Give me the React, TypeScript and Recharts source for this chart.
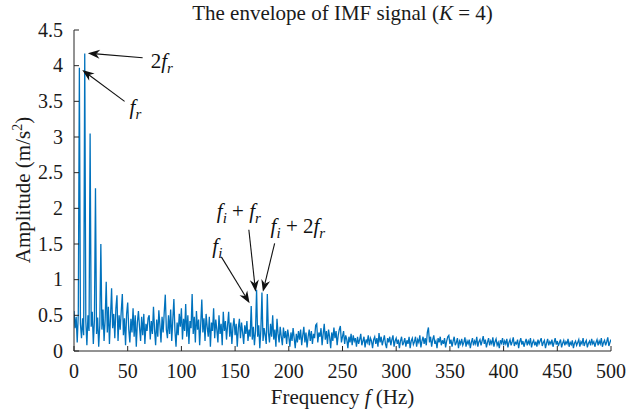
import { LineChart, Line, XAxis, YAxis, ReferenceLine } from 'recharts';

// envelope spectrum, 1 Hz bins
const FREQ_STEP_HZ = 1;

const amp000 = [
  0.56, 0.32, 0.48, 0.12, 0.52, 3.97, 0.38, 0.18, 0.46, 0.22,
  4.17, 0.42, 0.08, 0.5, 0.28, 3.05, 0.34, 0.55, 0.1, 0.43,
  2.28, 0.24, 0.47, 0.06, 0.36, 1.5, 0.3, 0.58, 0.14, 0.44,
  0.97, 0.26, 0.62, 0.1, 0.48, 0.88, 0.32, 0.52, 0.18, 0.6,
  0.78, 0.14, 0.5, 0.3, 0.56, 0.8, 0.22, 0.46, 0.08, 0.52,
];
const amp050 = [
  0.68, 0.3, 0.12, 0.45, 0.26, 0.6, 0.2, 0.5, 0.06, 0.4,
  0.56, 0.34, 0.14, 0.48, 0.22, 0.52, 0.1, 0.38, 0.28, 0.46,
  0.5, 0.16, 0.42, 0.24, 0.62, 0.3, 0.08, 0.44, 0.2, 0.57,
  0.36, 0.12, 0.48, 0.26, 0.54, 0.79, 0.3, 0.18, 0.5, 0.24,
  0.58, 0.14, 0.44, 0.73, 0.28, 0.06, 0.4, 0.22, 0.52, 0.34,
];
const amp100 = [
  0.6, 0.16, 0.45, 0.28, 0.66, 0.2, 0.5, 0.1, 0.42, 0.32,
  0.8, 0.24, 0.48, 0.12, 0.56, 0.3, 0.44, 0.08, 0.38, 0.72,
  0.26, 0.46, 0.14, 0.52, 0.34, 0.2, 0.48, 0.06, 0.4, 0.28,
  0.6, 0.18, 0.44, 0.3, 0.12, 0.5, 0.24, 0.38, 0.08, 0.55,
  0.28, 0.42, 0.16, 0.36, 0.55, 0.2, 0.4, 0.1, 0.34, 0.46,
];
const amp150 = [
  0.22, 0.38, 0.06, 0.32, 0.45, 0.18, 0.4, 0.26, 0.1, 0.36,
  0.24, 0.42, 0.14, 0.3, 0.2, 0.63, 0.16, 0.34, 0.08, 0.28,
  0.86, 0.2, 0.36, 0.04, 0.3, 0.82, 0.14, 0.32, 0.22, 0.1,
  0.8, 0.26, 0.12, 0.38, 0.2, 0.5, 0.16, 0.3, 0.06, 0.45,
  0.24, 0.12, 0.34, 0.2, 0.08, 0.33, 0.18, 0.28, 0.1, 0.3,
];
const amp200 = [
  0.2, 0.06, 0.26, 0.14, 0.32, 0.18, 0.04, 0.24, 0.12, 0.28,
  0.16, 0.3, 0.08, 0.22, 0.34, 0.12, 0.26, 0.05, 0.2, 0.3,
  0.14, 0.28, 0.1, 0.24, 0.18, 0.36, 0.38, 0.12, 0.26, 0.2,
  0.32, 0.08, 0.24, 0.38, 0.16, 0.28, 0.1, 0.3, 0.2, 0.04,
  0.26, 0.14, 0.33, 0.18, 0.28, 0.08, 0.22, 0.3, 0.35, 0.12,
];
const amp250 = [
  0.2, 0.28, 0.1, 0.22, 0.16, 0.04, 0.2, 0.12, 0.24, 0.08,
  0.22, 0.14, 0.18, 0.06, 0.2, 0.1, 0.16, 0.24, 0.08, 0.14,
  0.2, 0.05, 0.16, 0.12, 0.22, 0.08, 0.18, 0.14, 0.04, 0.16,
  0.2, 0.1, 0.18, 0.06, 0.25, 0.12, 0.2, 0.08, 0.15, 0.22,
  0.1, 0.04, 0.18, 0.12, 0.2, 0.08, 0.16, 0.22, 0.06, 0.14,
];
const amp300 = [
  0.18, 0.1, 0.16, 0.04, 0.14, 0.2, 0.08, 0.12, 0.18, 0.06,
  0.15, 0.1, 0.2, 0.04, 0.14, 0.18, 0.09, 0.13, 0.2, 0.06,
  0.16, 0.12, 0.22, 0.05, 0.14, 0.2, 0.1, 0.18, 0.08, 0.26,
  0.33, 0.12, 0.2, 0.06, 0.16, 0.22, 0.1, 0.14, 0.04, 0.18,
  0.12, 0.2, 0.08, 0.15, 0.1, 0.18, 0.05, 0.14, 0.2, 0.22,
];
const amp350 = [
  0.1, 0.16, 0.06, 0.14, 0.2, 0.08, 0.12, 0.18, 0.04, 0.14,
  0.1, 0.17, 0.08, 0.12, 0.19, 0.06, 0.14, 0.1, 0.16, 0.04,
  0.12, 0.18, 0.08, 0.14, 0.1, 0.2, 0.06, 0.13, 0.16, 0.08,
  0.14, 0.21, 0.1, 0.16, 0.05, 0.12, 0.18, 0.08, 0.14, 0.1,
  0.19, 0.06, 0.13, 0.17, 0.08, 0.12, 0.04, 0.15, 0.11, 0.18,
];
const amp400 = [
  0.08, 0.14, 0.1, 0.17, 0.05, 0.12, 0.16, 0.08, 0.13, 0.19,
  0.07, 0.12, 0.1, 0.16, 0.04, 0.13, 0.18, 0.09, 0.14, 0.06,
  0.12, 0.17, 0.08, 0.14, 0.1, 0.18, 0.05, 0.12, 0.15, 0.08,
  0.13, 0.06, 0.16, 0.1, 0.14, 0.18, 0.07, 0.12, 0.15, 0.04,
  0.11, 0.17, 0.08, 0.13, 0.1, 0.16, 0.06, 0.12, 0.18, 0.09,
];
const amp450 = [
  0.14, 0.07, 0.12, 0.16, 0.05, 0.11, 0.15, 0.08, 0.13, 0.1,
  0.17, 0.06, 0.12, 0.09, 0.15, 0.04, 0.11, 0.14, 0.08, 0.12,
  0.16, 0.06, 0.13, 0.1, 0.18, 0.07, 0.12, 0.15, 0.05, 0.11,
  0.14, 0.08, 0.17, 0.1, 0.13, 0.06, 0.12, 0.16, 0.08, 0.14,
  0.1, 0.18, 0.06, 0.12, 0.15, 0.08, 0.13, 0.19, 0.07, 0.12,
  0.16,
];

const amplitude = [
  ...amp000, ...amp050, ...amp100, ...amp150, ...amp200,
  ...amp250, ...amp300, ...amp350, ...amp400, ...amp450,
];

const X_TICKS = [0, 50, 100, 150, 200, 250, 300, 350, 400, 450, 500];
const Y_TICKS = [0, 0.5, 1, 1.5, 2, 2.5, 3, 3.5, 4, 4.5];

// label pieces: n = upright, i = italic, s = italic subscript
type Piece = [string, 'n' | 'i' | 's'];
const ANNOTATIONS: { tail: [number, number]; head: [number, number]; dx: number; dy: number; text: Piece[] }[] = [
  { tail: [63.9, 4.11], head: [12.9, 4.175], dx: 8, dy: 10, text: [['2', 'n'], ['f', 'i'], ['r', 's']] },
  { tail: [47.1, 3.5], head: [7.7, 3.94], dx: 5, dy: 13, text: [['f', 'i'], ['r', 's']] },
  { tail: [137.2, 1.32], head: [163.5, 0.67], dx: -9, dy: -4, text: [['f', 'i'], ['i', 's']] },
  { tail: [162.8, 1.7], head: [169.1, 0.83], dx: -32, dy: -12, text: [['f', 'i'], ['i', 's'], [' + ', 'n'], ['f', 'i'], ['r', 's']] },
  { tail: [186.8, 1.51], head: [175.9, 0.83], dx: -4, dy: -10, text: [['f', 'i'], ['i', 's'], [' + 2', 'n'], ['f', 'i'], ['r', 's']] },
];

const chartData = amplitude.map((a, i) => ({ freq: i * FREQ_STEP_HZ, amp: a }));

const FONT = '"Liberation Serif", "DejaVu Serif", serif';
const AXIS = '#262626';
const TICK_LEN = 5;
const X_GAP = 13;
const Y_GAP = 11;
const TICK_FONT = { fontFamily: FONT, fontSize: 20 };

function BottomTick(props: any) {
  const { x, y, payload } = props;
  const axisY = y - X_GAP;
  return (
    <g>
      <line x1={x} y1={axisY} x2={x} y2={axisY - TICK_LEN} stroke={AXIS} />
      <text x={x} y={y} dy="0.7em" textAnchor="middle" fill="#1a1a1a" style={TICK_FONT}>
        {payload.value}
      </text>
    </g>
  );
}

function LeftTick(props: any) {
  const { x, y, payload } = props;
  const axisX = x + Y_GAP;
  return (
    <g>
      <line x1={axisX} y1={y} x2={axisX + TICK_LEN} y2={y} stroke={AXIS} />
      <text x={x} y={y} dy="0.34em" textAnchor="end" fill="#1a1a1a" style={TICK_FONT}>
        {payload.value}
      </text>
    </g>
  );
}

function TopTick(props: any) {
  const { x, y } = props;
  return <line x1={x} y1={y} x2={x} y2={y + TICK_LEN} stroke={AXIS} />;
}

function RightTick(props: any) {
  const { x, y } = props;
  return <line x1={x} y1={y} x2={x - TICK_LEN} y2={y} stroke={AXIS} />;
}

function Arrow(props: any) {
  const { x1, y1, x2, y2, dx, dy, text } = props;
  const len = Math.hypot(x2 - x1, y2 - y1) || 1;
  const ux = (x2 - x1) / len;
  const uy = (y2 - y1) / len;
  const hl = 12;
  const hw = 4.5;
  const bx = x2 - ux * hl;
  const by = y2 - uy * hl;
  const nx = x2 - ux * hl * 0.7;
  const ny = y2 - uy * hl * 0.7;
  const pts = `${x2},${y2} ${bx - uy * hw},${by + ux * hw} ${nx},${ny} ${bx + uy * hw},${by - ux * hw}`;
  let shift = 0;
  return (
    <g>
      <line x1={x1} y1={y1} x2={nx} y2={ny} stroke="#111" strokeWidth={1.1} />
      <polygon points={pts} fill="#111" />
      <text x={x1 + dx} y={y1 + dy} fill="#111" style={{ fontFamily: FONT, fontSize: 21, whiteSpace: 'pre' }}>
        {(text as Piece[]).map(([t, s], k) => {
          const target = s === 's' ? 5 : 0;
          const d = target - shift;
          shift = target;
          return (
            <tspan key={k} dy={d} style={{ fontStyle: s === 'n' ? 'normal' : 'italic', fontSize: s === 's' ? 15 : 21 }}>
              {t}
            </tspan>
          );
        })}
      </text>
    </g>
  );
}

const labelStyle = {
  position: 'absolute' as const,
  fontFamily: FONT,
  fontSize: 21,
  color: '#1a1a1a',
  whiteSpace: 'nowrap' as const,
  lineHeight: 1,
};

export default function App() {
  return (
    <div style={{ position: 'absolute', left: 0, top: 0, width: 627, height: 410, background: '#fff' }}>
      <div style={{ ...labelStyle, left: 74, width: 537, top: 3, textAlign: 'center' }}>
        The envelope of IMF signal (<i>K</i> = 4)
      </div>
      <div style={{ ...labelStyle, left: 22, top: 190, transform: 'translate(-50%, -50%) rotate(-90deg)' }}>
        Amplitude (m/s<sup style={{ fontSize: 14 }}>2</sup>)
      </div>
      <div style={{ ...labelStyle, left: 74, width: 537, top: 387, textAlign: 'center' }}>
        Frequency <i>f</i> (Hz)
      </div>
      <LineChart width={627} height={410} data={chartData} margin={{ top: 30, right: 16, bottom: 0, left: 0 }}>
        <XAxis
          dataKey="freq" type="number" domain={[0, 500]} ticks={X_TICKS} interval={0}
          allowDataOverflow height={59} tickSize={0} tickMargin={X_GAP} tickLine={false}
          axisLine={{ stroke: AXIS }} tick={<BottomTick />}
        />
        <XAxis
          xAxisId="top" orientation="top" dataKey="freq" type="number" domain={[0, 500]} ticks={X_TICKS}
          interval={0} allowDataOverflow height={0} tickSize={0} tickMargin={0} tickLine={false}
          axisLine={{ stroke: AXIS }} tick={<TopTick />}
        />
        <YAxis
          type="number" domain={[0, 4.5]} ticks={Y_TICKS} interval={0} allowDataOverflow width={74}
          tickSize={0} tickMargin={Y_GAP} tickLine={false} axisLine={{ stroke: AXIS }} tick={<LeftTick />}
        />
        <YAxis
          yAxisId="right" orientation="right" type="number" domain={[0, 4.5]} ticks={Y_TICKS} interval={0}
          allowDataOverflow width={0} tickSize={0} tickMargin={0} tickLine={false}
          axisLine={{ stroke: AXIS }} tick={<RightTick />}
        />
        <Line
          dataKey="amp" type="linear" stroke="#0072BD" strokeWidth={1.3} dot={false}
          isAnimationActive={false}
        />
        {ANNOTATIONS.map((a, i) => (
          <ReferenceLine
            key={i}
            segment={[{ x: a.tail[0], y: a.tail[1] }, { x: a.head[0], y: a.head[1] }]}
            shape={(p: any) => <Arrow {...p} dx={a.dx} dy={a.dy} text={a.text} />}
          />
        ))}
      </LineChart>
    </div>
  );
}
